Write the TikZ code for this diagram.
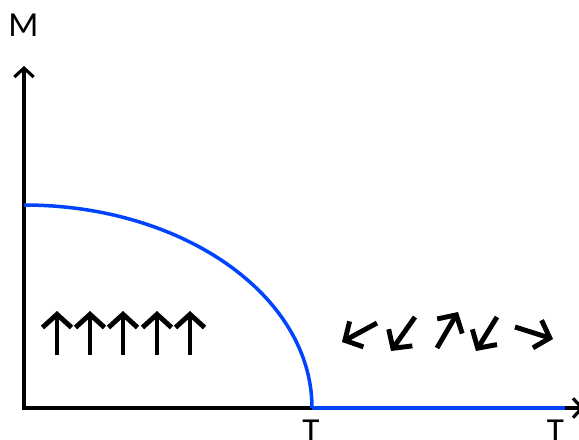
\documentclass[tikz,border=0pt]{standalone}
\usepackage{fontspec}
\setmainfont{Carlito}
\usetikzlibrary{arrows.meta}

\definecolor{phaseblue}{RGB}{0,68,255}

\begin{document}
\begin{tikzpicture}[
    x=0.02cm,
    y=-0.02cm,
    axis/.style={
        line width=1.8pt,
        {Straight Barb[length=5pt,width=11pt]}-{Straight Barb[length=5pt,width=11pt]}
    },
    boundary/.style={
        phaseblue,
        line width=2pt
    },
    spin/.style={
        line width=2.8pt,
        -{Straight Barb[length=7.5pt,width=16.5pt]}
    },
    axislabel/.style={
        font=\fontsize{20}{24}\selectfont,
        inner sep=0pt
    }
]

\useasboundingbox (0,0) rectangle (579,440);

% ------------------------------------------------------------
% Axes
% ------------------------------------------------------------
\coordinate (origin) at (24,408);
\coordinate (m-tip)  at (24,66);
\coordinate (t-tip)  at (584,408);

\draw[axis] (m-tip) |- (t-tip);

\node[axislabel] (m-label)  at (23.5,25) {M};
\node[axislabel] (tc-label) at (311,431) {T};
\node[axislabel] (t-label)  at (555.5,431) {T};

% ------------------------------------------------------------
% Phase boundary
% ------------------------------------------------------------
\coordinate (m-zero) at (24,205);
\coordinate (tc)     at (312,408);
\coordinate (t-end)  at (565,408);

\draw[boundary] (m-zero)
    arc[start angle=-90, end angle=0, x radius=288, y radius=203];
\draw[boundary] (tc) -- (t-end);

% ------------------------------------------------------------
% Spins: ordered
% ------------------------------------------------------------
\foreach \x in {57,90,123,157,190}
    \draw[spin] (\x,355) -- (\x,311);

% ------------------------------------------------------------
% Spins: disordered
% ------------------------------------------------------------
\draw[spin] (377,323) -- (342,342);
\draw[spin] (415,317) -- (391,351);
\draw[spin] (437,348) -- (458,312);
\draw[spin] (497,317) -- (476,351);
\draw[spin] (515,327) -- (553,339);

\end{tikzpicture}
\end{document}
